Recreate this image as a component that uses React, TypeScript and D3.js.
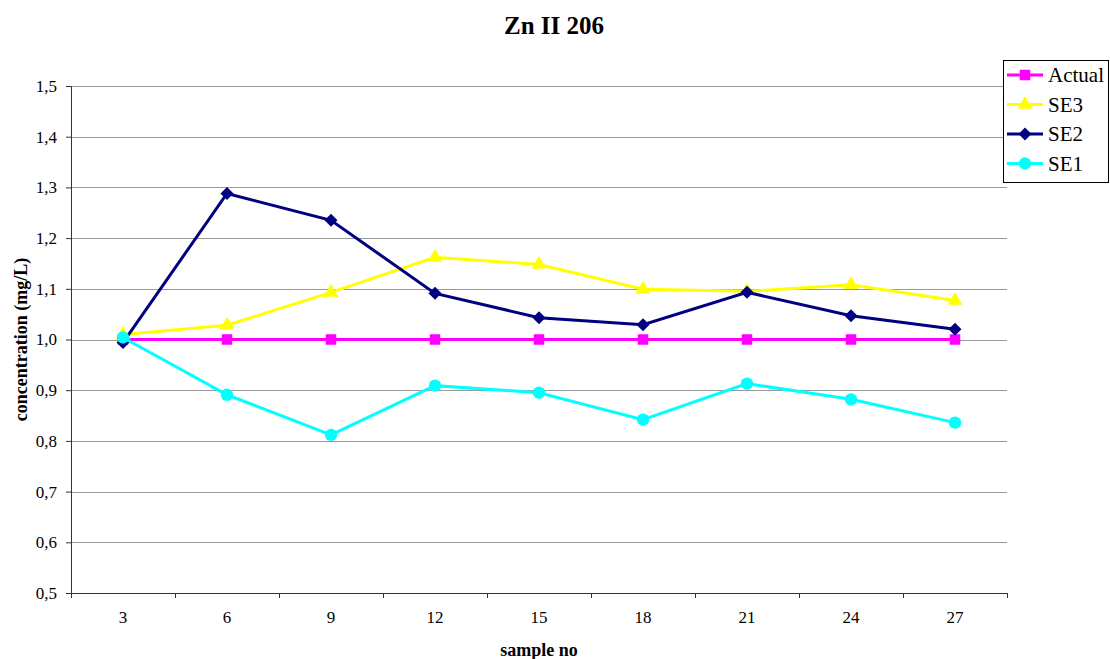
import { useEffect, useRef } from 'react';
import * as d3 from 'd3';

const samples = ['3', '6', '9', '12', '15', '18', '21', '24', '27'];
const actual = [1, 1, 1, 1, 1, 1, 1, 1, 1];
const se3 = [1.01, 1.028, 1.093, 1.162, 1.148, 1.099, 1.095, 1.108, 1.077];
const se2 = [0.994, 1.288, 1.235, 1.091, 1.043, 1.029, 1.093, 1.047, 1.02];
const se1 = [1.004, 0.891, 0.812, 0.909, 0.895, 0.842, 0.913, 0.882, 0.836];
const yTicks = [0.5, 0.6, 0.7, 0.8, 0.9, 1.0, 1.1, 1.2, 1.3, 1.4, 1.5];

const series = [
  { name: 'Actual', values: actual, color: '#ff00ff', marker: 'square' },
  { name: 'SE3', values: se3, color: '#ffff00', marker: 'triangle' },
  { name: 'SE2', values: se2, color: '#000080', marker: 'diamond' },
  { name: 'SE1', values: se1, color: '#00ffff', marker: 'circle' },
];

const FONT = "'Liberation Serif', 'Times New Roman', 'DejaVu Serif', serif";

function symbolFor(marker: string) {
  if (marker === 'square') return d3.symbol(d3.symbolSquare, 110);
  if (marker === 'triangle') return d3.symbol(d3.symbolTriangle, 95);
  // rotated square for the diamond
  if (marker === 'diamond') return () => 'M0,-6.5L6.5,0L0,6.5L-6.5,0Z';
  return d3.symbol(d3.symbolCircle, 120);
}

export default function App() {
  const svgRef = useRef<SVGSVGElement>(null);

  useEffect(() => {
    if (!svgRef.current) return;
    const svg = d3.select(svgRef.current);
    svg.selectAll('*').remove();

    const width = 1110;
    const height = 659;
    const margin = { top: 86, right: 103, bottom: 66, left: 71 };
    const chartWidth = width - margin.left - margin.right;
    const chartHeight = height - margin.top - margin.bottom;

    svg.append('rect').attr('width', width).attr('height', height).attr('fill', '#fff');

    const g = svg.append('g').attr('transform', `translate(${margin.left},${margin.top})`);

    const x = d3.scaleBand().domain(samples).range([0, chartWidth]);
    const y = d3.scaleLinear().domain([0.5, 1.5]).range([chartHeight, 0]);

    // gridlines
    g.selectAll('.grid')
      .data(yTicks.slice(1))
      .enter()
      .append('line')
      .attr('x1', 0)
      .attr('x2', chartWidth)
      .attr('y1', d => Math.round(y(d)) + 0.5)
      .attr('y2', d => Math.round(y(d)) + 0.5)
      .attr('stroke', '#999')
      .attr('stroke-width', 1);

    // y axis
    const yAxis = g.append('g')
      .call(d3.axisLeft(y).tickValues(yTicks).tickSize(5).tickPadding(9)
        .tickFormat(d => d3.format('.1f')(d as number).replace('.', ',')));
    yAxis.selectAll('text').style('font-family', FONT).style('font-size', '17px').attr('fill', '#000');
    yAxis.selectAll('line,path').attr('stroke', '#333');

    // x axis
    const xAxis = g.append('g').attr('transform', `translate(0,${chartHeight})`)
      .call(d3.axisBottom(x).tickSize(0).tickPadding(18));
    xAxis.select('.domain').attr('stroke', '#333');
    xAxis.selectAll('text').style('font-family', FONT).style('font-size', '17px').attr('fill', '#000');
    xAxis.selectAll('.bound')
      .data(d3.range(samples.length + 1))
      .enter()
      .append('line')
      .attr('x1', i => Math.round(i * x.bandwidth()) + 0.5)
      .attr('x2', i => Math.round(i * x.bandwidth()) + 0.5)
      .attr('y1', 0)
      .attr('y2', 5)
      .attr('stroke', '#333');

    const line = d3.line<number>()
      .x((_, i) => (x(samples[i]) || 0) + x.bandwidth() / 2)
      .y(d => y(d));

    series.forEach(s => {
      g.append('path')
        .datum(s.values)
        .attr('d', line)
        .attr('fill', 'none')
        .attr('stroke', s.color)
        .attr('stroke-width', 3);
      g.selectAll(null)
        .data(s.values)
        .enter()
        .append('path')
        .attr('d', symbolFor(s.marker) as any)
        .attr('transform', (d, i) => `translate(${(x(samples[i]) || 0) + x.bandwidth() / 2},${y(d)})`)
        .attr('fill', s.color);
    });

    // title
    svg.append('text')
      .attr('x', 554)
      .attr('y', 34)
      .attr('text-anchor', 'middle')
      .style('font-family', FONT)
      .style('font-weight', 'bold')
      .style('font-size', '25px')
      .text('Zn II 206');

    svg.append('text')
      .attr('x', 539)
      .attr('y', 656)
      .attr('text-anchor', 'middle')
      .style('font-family', FONT)
      .style('font-weight', 'bold')
      .style('font-size', '18px')
      .text('sample no');

    svg.append('text')
      .attr('transform', `translate(27,${margin.top + chartHeight / 2}) rotate(-90)`)
      .attr('text-anchor', 'middle')
      .style('font-family', FONT)
      .style('font-weight', 'bold')
      .style('font-size', '18px')
      .text('concentration (mg/L)');

    // legend
    const legend = svg.append('g').attr('transform', 'translate(1003,60)');
    legend.append('rect')
      .attr('x', 0.5)
      .attr('y', 0.5)
      .attr('width', 105)
      .attr('height', 122)
      .attr('fill', '#fff')
      .attr('stroke', '#000');
    series.forEach((s, i) => {
      const ly = 15 + i * 29.5;
      legend.append('line')
        .attr('x1', 4).attr('x2', 40)
        .attr('y1', ly).attr('y2', ly)
        .attr('stroke', s.color).attr('stroke-width', 3);
      legend.append('path')
        .attr('d', symbolFor(s.marker) as any)
        .attr('transform', `translate(22,${ly})`)
        .attr('fill', s.color);
      legend.append('text')
        .attr('x', 45)
        .attr('y', ly + 7)
        .style('font-family', FONT)
        .style('font-size', '21px')
        .text(s.name);
    });
  }, []);

  return (
    <svg
      ref={svgRef}
      width={1110}
      height={659}
      style={{ position: 'absolute', left: 0, top: 0, display: 'block' }}
    />
  );
}
